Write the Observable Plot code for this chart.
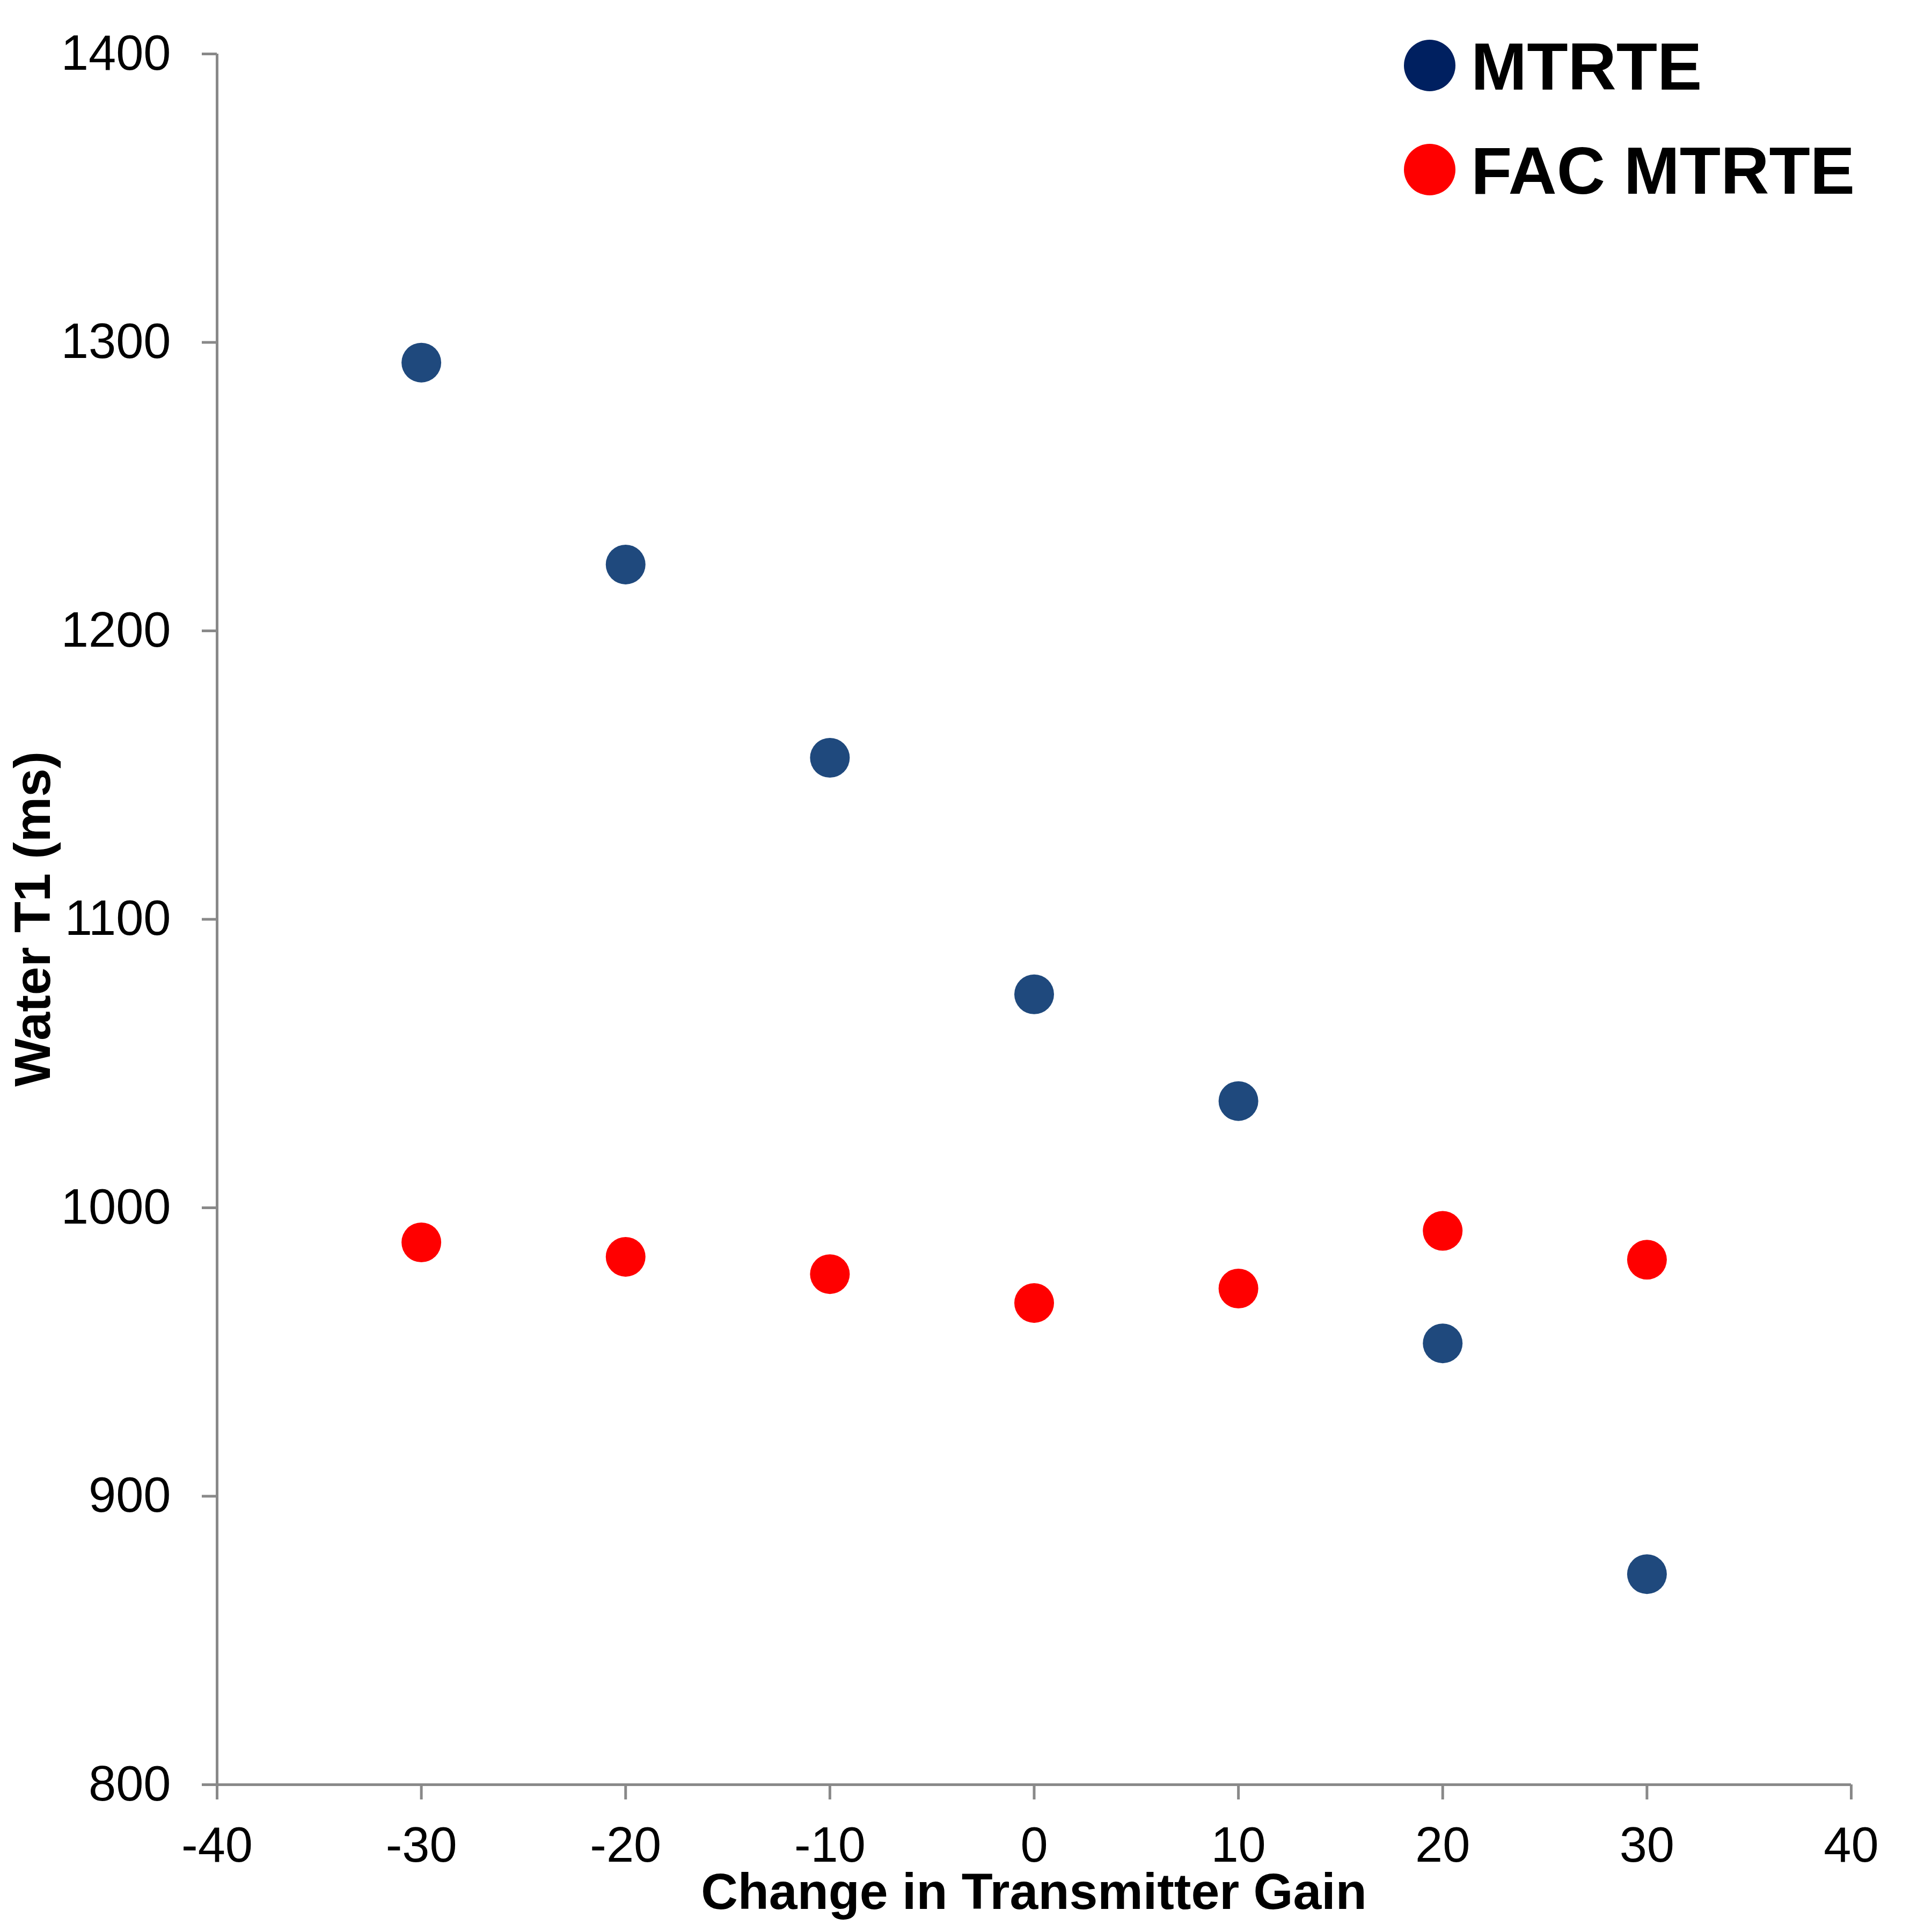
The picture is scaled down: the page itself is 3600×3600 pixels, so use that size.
<!DOCTYPE html>
<html>
<head>
<meta charset="utf-8">
<script src="https://cdn.jsdelivr.net/npm/d3@7"></script>
<script src="https://cdn.jsdelivr.net/npm/@observablehq/plot@0.6"></script>
<style>
  html, body { margin: 0; padding: 0; background: #fff; }
  #chart { width: 3600px; height: 3600px; }
</style>
</head>
<body>
<div id="chart"></div>
<script>
// ---- data ----
const gain = [-30, -20, -10, 0, 10, 20, 30];
const mtrte = [1293, 1223, 1156, 1074, 1037, 953, 873];
const facMtrte = [988, 983, 977, 967, 972, 992, 982];
const seriesNames = ["MTRTE", "FAC MTRTE"];
const xTicks = [-40, -30, -20, -10, 0, 10, 20, 30, 40];
const yTicks = [800, 900, 1000, 1100, 1200, 1300, 1400];
const xTitle = "Change in Transmitter Gain";
const yTitle = "Water T1 (ms)";

const blueRows = gain.map((g, i) => ({gain: g, t1: mtrte[i]}));
const redRows = gain.map((g, i) => ({gain: g, t1: facMtrte[i]}));

const W = 3600, H = 3600;
const mL = 404, mR = 151, mT = 100, mB = 275;
const font = "'Liberation Sans', Arial, Helvetica, sans-serif";
const axisGray = "#898989";

const plot = Plot.plot({
  width: W,
  height: H,
  marginLeft: mL,
  marginRight: mR,
  marginTop: mT,
  marginBottom: mB,
  style: {fontFamily: font, fontSize: "92px", color: "black", background: "white"},
  x: {domain: [-40, 40]},
  y: {domain: [800, 1400]},
  marks: [
    Plot.axisX({ticks: xTicks, tickSize: 28, tickPadding: 50, fontSize: 92, stroke: axisGray, strokeWidth: 5, fill: "black", label: null, tickFormat: d => String(d).replace("\u2212", "-")}),
    Plot.axisY({ticks: yTicks, tickSize: 28, tickPadding: 58, fontSize: 92, stroke: axisGray, strokeWidth: 5, fill: "black", label: null, tickFormat: d => String(d)}),
    Plot.ruleX([-40], {stroke: axisGray, strokeWidth: 5}),
    Plot.ruleY([800], {stroke: axisGray, strokeWidth: 5}),
    Plot.dot(blueRows, {x: "gain", y: "t1", r: 37, fill: "#1F497D", stroke: "none"}),
    Plot.dot(redRows, {x: "gain", y: "t1", r: 37, fill: "#FF0000", stroke: "none"})
  ]
});

document.getElementById("chart").appendChild(plot);

const svg = d3.select(plot);
// axis titles
svg.append("text")
  .attr("x", (mL + W - mR) / 2)
  .attr("y", 3557)
  .attr("text-anchor", "middle")
  .attr("font-family", font)
  .attr("font-weight", "bold")
  .attr("font-size", 95)
  .attr("fill", "black")
  .text(xTitle);
svg.append("text")
  .attr("transform", `translate(93,${(mT + H - mB) / 2}) rotate(-90)`)
  .attr("text-anchor", "middle")
  .attr("font-family", font)
  .attr("font-weight", "bold")
  .attr("font-size", 95)
  .attr("fill", "black")
  .text(yTitle);

// legend
const legendColors = ["#002060", "#FF0000"];
const legend = svg.append("g")
  .attr("font-family", font)
  .attr("font-weight", "bold")
  .attr("font-size", 125)
  .attr("text-anchor", "start");
seriesNames.forEach((name, i) => {
  const cy = 122 + i * 194;
  legend.append("circle").attr("cx", 2664).attr("cy", cy).attr("r", 48).attr("fill", legendColors[i]);
  legend.append("text").attr("x", 2741).attr("y", cy + 45).attr("text-anchor", "start").attr("fill", "black").text(name);
});
</script>
</body>
</html>
